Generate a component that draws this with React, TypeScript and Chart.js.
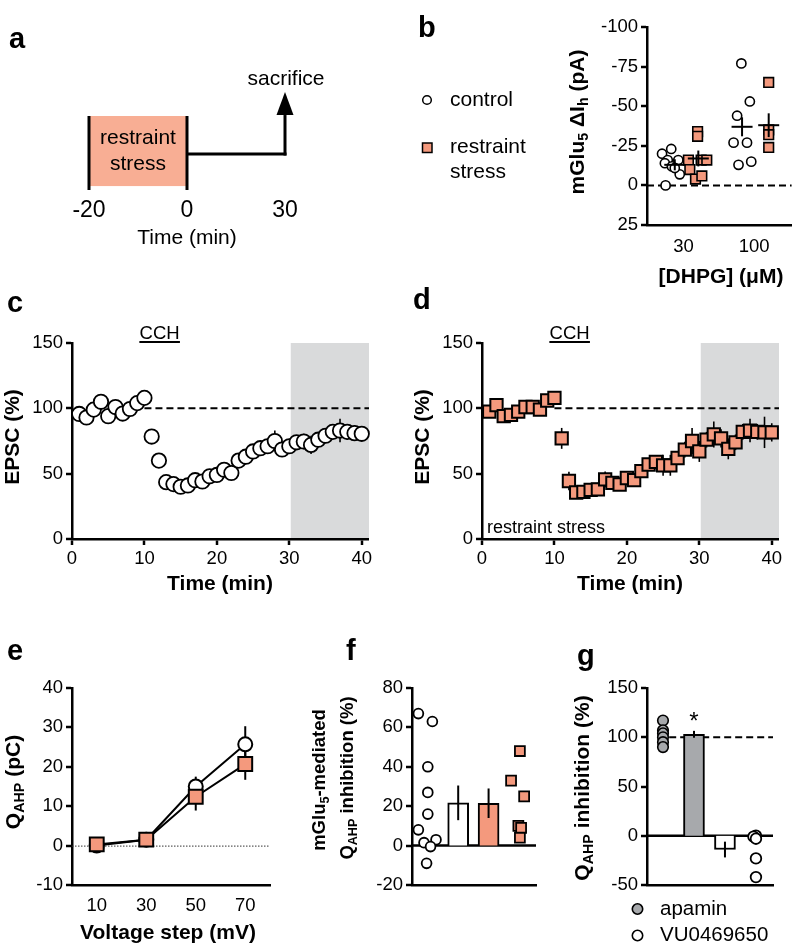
import React, { useEffect, useRef } from 'react';
import { Chart, registerables } from 'chart.js';

Chart.register(...registerables);

/* ====================== DATA ====================== */
// a: timeline
const timelineTicks = ['-20', '0', '30'];

// b: mGlu5 ΔIh
const dhpgDoses = ['30', '100'];
const bControl30 = [-20, -23, -16, -14, -12, -16, -7, 0, -11];
const bStress30 = [-16, -10, -34, -31, -4, -16, -6, -16];
const bControl100 = [-77, -53, -44, -27, -27, -13, -15];
const bStress100 = [-65, -35, -32, -24];
const bControlMean = [-13, -37];
const bControlSem = [3.5, 6];
const bStressMean = [-17, -38];
const bStressSem = [5, 7.5];
const bTicksY = [-100, -75, -50, -25, 0, 25];

// c, d: EPSC time course
const minutes = [1, 2, 3, 4, 5, 6, 7, 8, 9, 10, 11, 12, 13, 14, 15, 16, 17, 18, 19, 20,
  21, 22, 23, 24, 25, 26, 27, 28, 29, 30, 31, 32, 33, 34, 35, 36, 37, 38, 39, 40];
const cEpsc = [95.7, 93, 99, 105, 94, 101, 96, 99.5, 104, 108, 78.4, 60, 43.5, 42, 40, 41, 45, 44, 48, 49,
  53, 50.5, 60, 63, 67, 69.5, 71, 75, 68.5, 71, 74, 74.6, 72, 76, 79, 82, 83, 82, 81, 80.5];
const cSem = [3, 3, 3, 4, 3, 4, 3, 3, 3, 3, 3, 3, 3, 3, 3, 3, 3, 3, 3, 3,
  4, 4, 4, 4, 4, 5, 5, 8, 5, 5, 5, 6, 7, 5, 5, 5, 9, 6, 6, 5];
const dEpsc = [97.5, 102.5, 94, 95, 97.5, 101, 101, 99, 106, 108, 77, 44.4, 35.6, 36, 37.6, 38, 45.7, 43, 41.7, 46.7,
  45, 52, 57, 59, 56.4, 56.4, 62, 68.4, 75, 67, 76, 80, 77, 69, 74, 82, 83, 82, 81.6, 81.6];
const dSem = [3, 3, 4, 3, 3, 3, 3, 3, 4, 3, 8, 7, 4, 4, 4, 5, 6, 4, 4, 5,
  4, 4, 5, 5, 8, 8, 5, 6, 10, 8, 6, 10, 7, 8, 6, 6, 9, 6, 12, 7];
const epscTicksY = [0, 50, 100, 150];
const timeTicks = [0, 10, 20, 30, 40];

// e: QAHP vs voltage step
const voltageSteps = [10, 30, 50, 70];
const eControl = [0, 1.5, 15, 25.7];
const eControlSem = [0.5, 0.6, 2.5, 4.6];
const eStress = [0.3, 1.5, 12.4, 20.7];
const eStressSem = [0.5, 0.6, 3.5, 4];
const eTicksY = [-10, 0, 10, 20, 30, 40];

// f: mGlu5-mediated QAHP inhibition
const fControl = [67, 63, 40, 27, 16, 8, 1.5, 3, -0.5, -9];
const fStress = [48, 33, 25, 10, 9, 4];
const fBarMean = [21.7, 21.5];
const fBarSem = [8.8, 7.5];
const fTicksY = [-20, 0, 20, 40, 60, 80];

// g: QAHP inhibition by apamin / VU0469650
const gApamin = [117, 107, 104, 100, 95, 90];
const gVU = [0, -1, -3, -23, -42];
const gBarMean = [103, -14];
const gBarSem = [3.5, 8];
const gTicksY = [-50, 0, 50, 100, 150];

/* ====================== LAYOUT / STYLE ====================== */
const W = 800, H = 947, YW = 50, XH = 40;
const FAMILY = "'Liberation Sans', Arial, Helvetica, sans-serif";
const SALMON = '#F4997D';
const SALMON_LIGHT = '#F8AE94';
const GRAY_SHADE = '#D9DADB';
const GRAY_BAR = '#A7A9AC';
const TICK_SIZE = 18.5;
const TITLE_SIZE = 21;

const AREA: any = {
  a: { l: 89, r: 285, t: 92, b: 190 },
  b: { l: 647, r: 797, t: 27, b: 225 },
  c: { l: 72, r: 369, t: 343, b: 539 },
  d: { l: 482, r: 779, t: 343, b: 539 },
  e: { l: 72, r: 270, t: 688, b: 885 },
  f: { l: 412, r: 536, t: 688, b: 885 },
  g: { l: 647, r: 773, t: 688, b: 885 },
};

const B_X = { min: 0.484, max: 2.53, ticks: [1, 2], control: [0.877, 1.829], stress: [1.21, 2.206] };
const B_JIT = {
  c30: [-0.18, -0.05, -0.1, -0.14, -0.04, 0.05, 0.07, -0.13, 0],
  s30: [-0.14, -0.12, -0.01, -0.01, -0.04, 0.04, 0.05, 0.12],
  c100: [-0.01, 0.11, -0.07, -0.12, 0.07, -0.05, 0.13],
  s100: [0, 0, 0, 0],
};
const TC = { shadeFrom: 30.2, baseline: 100, dashFrom: 10, cch: [9.3, 14.9] };
const F_X = { min: -0.52, max: 3.56, control: 0, bars: [1, 2], stress: 3 };
const F_JIT_C = [-0.31, 0.15, 0, 0, 0, -0.31, -0.125, 0.27, 0.09, -0.04];
const F_JIT_S = [0.03, -0.26, 0.17, -0.02, 0.07, 0.03];
const G_X = { min: -0.516, max: 3.55, apamin: 0, bars: [1, 2], vu: 3, dashFrom: 0.2 };
const G_JIT_A = [0, 0, 0, 0, 0, 0];
const G_JIT_V = [0, -0.08, 0, 0, 0];

/* ====================== HELPERS ====================== */
type Seg = { t: string; sub?: boolean };

function drawText(ctx: CanvasRenderingContext2D, segs: Seg[] | string, cx: number, cy: number, size: number,
  opts: { bold?: boolean; rotate?: boolean; align?: 'center' | 'left' } = {}) {
  const list: Seg[] = typeof segs === 'string' ? [{ t: segs }] : segs;
  const weight = opts.bold ? 'bold ' : '';
  const mainFont = `${weight}${size}px ${FAMILY}`;
  const subFont = `${weight}${(size * 0.68).toFixed(2)}px ${FAMILY}`;
  ctx.save();
  ctx.translate(cx, cy);
  if (opts.rotate) ctx.rotate(-Math.PI / 2);
  ctx.textBaseline = 'middle';
  ctx.textAlign = 'left';
  ctx.fillStyle = '#000';
  const widths = list.map((s) => { ctx.font = s.sub ? subFont : mainFont; return ctx.measureText(s.t).width; });
  const total = widths.reduce((a, b) => a + b, 0);
  let x = opts.align === 'left' ? 0 : -total / 2;
  list.forEach((s, i) => {
    ctx.font = s.sub ? subFont : mainFont;
    ctx.fillText(s.t, x, s.sub ? size * 0.28 : 0);
    x += widths[i];
  });
  ctx.restore();
}

function drawLetter(ctx: CanvasRenderingContext2D, ch: string, x: number, baseline: number) {
  ctx.save();
  ctx.font = `bold 29px ${FAMILY}`;
  ctx.fillStyle = '#000';
  ctx.textAlign = 'left';
  ctx.textBaseline = 'alphabetic';
  ctx.fillText(ch, x, baseline);
  ctx.restore();
}

function line(ctx: CanvasRenderingContext2D, x1: number, y1: number, x2: number, y2: number, w: number, dash: number[] = []) {
  ctx.save();
  ctx.strokeStyle = '#000';
  ctx.lineWidth = w;
  ctx.setLineDash(dash);
  ctx.beginPath();
  ctx.moveTo(x1, y1);
  ctx.lineTo(x2, y2);
  ctx.stroke();
  ctx.restore();
}

const BORDER = { display: true, color: '#000', width: 2.5 };
const TICK_GRID = { display: true, drawOnChartArea: false, drawTicks: true, tickLength: 6, tickWidth: 2.5, tickColor: '#000', lineWidth: 0, color: 'rgba(0,0,0,0)' };
const NO_GRID = { display: false, drawTicks: false, drawOnChartArea: false };
const fixedTicks = (vals: number[]) => (s: any) => { s.ticks = vals.map((v) => ({ value: v })); };
const fitW = (s: any) => { s.width = YW; };
const fitH = (s: any) => { s.height = XH; };

function yLin(min: number, max: number, ticks: number[], reverse = false): any {
  return {
    type: 'linear', position: 'left', min, max, reverse,
    afterFit: fitW, afterBuildTicks: fixedTicks(ticks),
    border: BORDER, grid: TICK_GRID,
    ticks: { color: '#000', font: { family: FAMILY, size: TICK_SIZE }, padding: 3, autoSkip: false },
  };
}

function xLin(min: number, max: number, ticks: number[], o: { marks: boolean; padding: number; labels?: (v: number) => string; hide?: boolean }): any {
  const t: any = { display: !o.hide, color: '#000', font: { family: FAMILY, size: TICK_SIZE }, padding: o.padding, autoSkip: false, maxRotation: 0, minRotation: 0 };
  if (o.labels) t.callback = (v: any) => o.labels!(Number(v));
  return {
    type: 'linear', position: 'bottom', min, max,
    afterFit: fitH, afterBuildTicks: fixedTicks(ticks),
    border: BORDER, grid: o.marks ? TICK_GRID : NO_GRID, ticks: t,
  };
}

function baseOptions(area: any, scales: any, hasY = true): any {
  return {
    responsive: false, maintainAspectRatio: false, animation: false, devicePixelRatio: 1, events: [],
    layout: { padding: { left: area.l - (hasY ? YW : 0), right: W - area.r, top: area.t, bottom: H - area.b - XH } },
    plugins: { legend: { display: false }, tooltip: { enabled: false } },
    scales,
  };
}

function vErr(chart: any, xs: number[], means: number[], sems: number[], w: number) {
  const { ctx, scales: { x, y } } = chart;
  xs.forEach((xv, i) => {
    const px = x.getPixelForValue(xv);
    line(ctx, px, y.getPixelForValue(means[i] - sems[i]), px, y.getPixelForValue(means[i] + sems[i]), w);
  });
}

/* ====================== PANELS ====================== */
function panelA(): any {
  const plugin = {
    id: 'panelA',
    afterDraw(chart: any) {
      const { ctx, scales: { x, y } } = chart;
      const x0 = x.getPixelForValue(0), x1 = x.getPixelForValue(1), x2 = x.getPixelForValue(2);
      const boxTop = y.getPixelForValue(0.755), boxBot = y.getPixelForValue(0.04);
      ctx.save();
      ctx.fillStyle = SALMON_LIGHT;
      ctx.fillRect(x0, boxTop, x1 - x0, boxBot - boxTop);
      ctx.restore();
      line(ctx, x0, boxTop, x0, y.getPixelForValue(0), 3);
      line(ctx, x1, boxTop, x1, y.getPixelForValue(0), 3);
      const hy = y.getPixelForValue(0.367);
      line(ctx, x1, hy, x2 + 1.5, hy, 3);
      const arrowBase = y.getPixelForValue(0.765);
      line(ctx, x2, hy + 1.5, x2, arrowBase, 3);
      ctx.save();
      ctx.fillStyle = '#000';
      ctx.beginPath();
      ctx.moveTo(x2, y.getPixelForValue(1));
      ctx.lineTo(x2 - 8.5, arrowBase);
      ctx.lineTo(x2 + 8.5, arrowBase);
      ctx.closePath();
      ctx.fill();
      ctx.restore();
      drawText(ctx, 'restraint', (x0 + x1) / 2, 138, 21);
      drawText(ctx, 'stress', (x0 + x1) / 2, 164, 21);
      drawText(ctx, 'sacrifice', x2 + 1, 79, 21);
      drawText(ctx, 'Time (min)', (x0 + x2) / 2, 238, 21);
      drawLetter(ctx, 'a', 9, 48);
    },
  };
  return {
    type: 'scatter',
    data: { labels: timelineTicks, datasets: [] },
    options: baseOptions(AREA.a, {
      x: {
        type: 'category', position: 'bottom', offset: false, afterFit: fitH,
        border: { display: false }, grid: NO_GRID,
        ticks: { color: '#000', font: { family: FAMILY, size: 23 }, padding: 7, autoSkip: false, maxRotation: 0 },
      },
      y: { type: 'linear', min: 0, max: 1, display: false },
    }, false),
    plugins: [plugin],
  };
}

function panelB(): any {
  const ctrl = [
    ...bControl30.map((v, i) => ({ x: B_X.control[0] + B_JIT.c30[i], y: v })),
    ...bControl100.map((v, i) => ({ x: B_X.control[1] + B_JIT.c100[i], y: v })),
  ];
  const str = [
    ...bStress30.map((v, i) => ({ x: B_X.stress[0] + B_JIT.s30[i], y: v })),
    ...bStress100.map((v, i) => ({ x: B_X.stress[1] + B_JIT.s100[i], y: v })),
  ];
  const plugin = {
    id: 'panelB',
    beforeDatasetsDraw(chart: any) {
      const { ctx, chartArea: ca, scales: { y } } = chart;
      const zy = y.getPixelForValue(0);
      line(ctx, ca.left, zy, ca.right, zy, 2, [7, 4]);
    },
    afterDatasetsDraw(chart: any) {
      const { ctx, scales: { x, y } } = chart;
      const groups = [
        { xs: B_X.control, m: bControlMean, s: bControlSem },
        { xs: B_X.stress, m: bStressMean, s: bStressSem },
      ];
      groups.forEach((g) => {
        g.xs.forEach((xv, i) => {
          const px = x.getPixelForValue(xv);
          const py = y.getPixelForValue(g.m[i]);
          line(ctx, px - 10.5, py, px + 10.5, py, 2);
          line(ctx, px, y.getPixelForValue(g.m[i] - g.s[i]), px, y.getPixelForValue(g.m[i] + g.s[i]), 2);
        });
      });
    },
    afterDraw(chart: any) {
      const { ctx } = chart;
      // legend
      ctx.save();
      ctx.lineWidth = 1.5;
      ctx.strokeStyle = '#000';
      ctx.fillStyle = '#fff';
      ctx.beginPath(); ctx.arc(427, 100, 4.3, 0, Math.PI * 2); ctx.fill(); ctx.stroke();
      ctx.fillStyle = SALMON;
      ctx.fillRect(422.5, 143, 9.5, 9.5); ctx.strokeRect(422.5, 143, 9.5, 9.5);
      ctx.restore();
      drawText(ctx, 'control', 450, 100, 21, { align: 'left' });
      drawText(ctx, 'restraint', 450, 147, 21, { align: 'left' });
      drawText(ctx, 'stress', 450, 172, 21, { align: 'left' });
      drawText(ctx, [{ t: 'mGlu' }, { t: '5', sub: true }, { t: ' ΔI' }, { t: 'h', sub: true }, { t: ' (pA)' }], 578.5, 122, TITLE_SIZE, { bold: true, rotate: true });
      drawText(ctx, '[DHPG] (μM)', 721, 277, TITLE_SIZE, { bold: true });
      drawLetter(ctx, 'b', 418, 37);
    },
  };
  return {
    type: 'scatter',
    data: {
      datasets: [
        { data: ctrl, pointStyle: 'circle', pointRadius: 4.6, pointBackgroundColor: '#fff', pointBorderColor: '#000', pointBorderWidth: 1.6, clip: false },
        { data: str, pointStyle: 'rect', pointRadius: 6.8, pointBackgroundColor: SALMON, pointBorderColor: '#000', pointBorderWidth: 1.6, clip: false },
      ],
    },
    options: baseOptions(AREA.b, {
      x: xLin(B_X.min, B_X.max, B_X.ticks, { marks: false, padding: 10.6, labels: (v) => dhpgDoses[Math.round(v) - 1] }),
      y: yLin(-100, 25, bTicksY, true),
    }),
    plugins: [plugin],
  };
}

function panelTimecourse(which: 'c' | 'd'): any {
  const vals = which === 'c' ? cEpsc : dEpsc;
  const sems = which === 'c' ? cSem : dSem;
  const yTitleX = which === 'c' ? 13 : 423;
  const xTitleX = which === 'c' ? 220 : 630;
  const plugin = {
    id: 'panel' + which,
    beforeDraw(chart: any) {
      const { ctx, chartArea: ca, scales: { x } } = chart;
      const sx = x.getPixelForValue(TC.shadeFrom);
      ctx.save();
      ctx.fillStyle = GRAY_SHADE;
      ctx.fillRect(sx, ca.top, ca.right - sx, ca.bottom - ca.top);
      ctx.restore();
    },
    beforeDatasetsDraw(chart: any) {
      const { ctx, chartArea: ca, scales: { x, y } } = chart;
      const by = y.getPixelForValue(TC.baseline);
      line(ctx, x.getPixelForValue(TC.dashFrom), by, ca.right, by, 2, [7, 4]);
      vErr(chart, minutes, vals, sems, 1.6);
    },
    afterDraw(chart: any) {
      const { ctx, scales: { x } } = chart;
      const c1 = x.getPixelForValue(TC.cch[0]), c2 = x.getPixelForValue(TC.cch[1]);
      drawText(ctx, 'CCH', (c1 + c2) / 2, 334, 18.5);
      line(ctx, c1, 342, c2, 342, 2);
      drawText(ctx, 'EPSC (%)', yTitleX, 437, TITLE_SIZE, { bold: true, rotate: true });
      drawText(ctx, 'Time (min)', xTitleX, 584, TITLE_SIZE, { bold: true });
      if (which === 'd') drawText(ctx, 'restraint stress', 487, 528, 18, { align: 'left' });
      if (which === 'c') drawLetter(ctx, 'c', 7, 312);
      else drawLetter(ctx, 'd', 413, 309);
    },
  };
  const ds = which === 'c'
    ? { pointStyle: 'circle', pointRadius: 7.2, pointBackgroundColor: '#fff', pointBorderColor: '#000', pointBorderWidth: 1.8 }
    : { pointStyle: 'rect', pointRadius: 8.7, pointBackgroundColor: SALMON, pointBorderColor: '#000', pointBorderWidth: 2 };
  return {
    type: 'scatter',
    data: { datasets: [{ data: minutes.map((m, i) => ({ x: m, y: vals[i] })), ...ds, clip: false }] },
    options: baseOptions(AREA[which], {
      x: xLin(0, 41, timeTicks, { marks: true, padding: 2.6 }),
      y: yLin(0, 150, epscTicksY),
    }),
    plugins: [plugin],
  };
}

function panelE(): any {
  const plugin = {
    id: 'panelE',
    beforeDatasetsDraw(chart: any) {
      const { ctx, chartArea: ca, scales: { y } } = chart;
      const zy = y.getPixelForValue(0);
      ctx.save();
      ctx.strokeStyle = '#333';
      ctx.lineWidth = 1;
      ctx.setLineDash([1.5, 1.5]);
      ctx.beginPath(); ctx.moveTo(ca.left, zy + 0.5); ctx.lineTo(ca.right, zy + 0.5); ctx.stroke();
      ctx.restore();
      vErr(chart, voltageSteps, eControl, eControlSem, 2);
      vErr(chart, voltageSteps, eStress, eStressSem, 2);
    },
    afterDraw(chart: any) {
      const { ctx } = chart;
      drawText(ctx, [{ t: 'Q' }, { t: 'AHP', sub: true }, { t: ' (pC)' }], 14, 782, TITLE_SIZE, { bold: true, rotate: true });
      drawText(ctx, 'Voltage step (mV)', 168, 933, TITLE_SIZE, { bold: true });
      drawLetter(ctx, 'e', 7, 660);
    },
  };
  return {
    type: 'scatter',
    data: {
      datasets: [
        {
          data: voltageSteps.map((v, i) => ({ x: v, y: eStress[i] })), showLine: true, borderColor: '#000', borderWidth: 2,
          pointStyle: 'rect', pointRadius: 9.8, pointBackgroundColor: SALMON, pointBorderColor: '#000', pointBorderWidth: 2, clip: false,
        },
        {
          data: voltageSteps.map((v, i) => ({ x: v, y: eControl[i] })), showLine: true, borderColor: '#000', borderWidth: 2,
          pointStyle: 'circle', pointRadius: 7, pointBackgroundColor: '#fff', pointBorderColor: '#000', pointBorderWidth: 2, clip: false,
        },
      ],
    },
    options: baseOptions(AREA.e, {
      x: xLin(0, 80, voltageSteps, { marks: false, padding: 9.4 }),
      y: yLin(-10, 40, eTicksY),
    }),
    plugins: [plugin],
  };
}

function panelF(): any {
  const plugin = {
    id: 'panelF',
    beforeDatasetsDraw(chart: any) {
      const { ctx, chartArea: ca, scales: { y } } = chart;
      const zy = y.getPixelForValue(0);
      line(ctx, ca.left, zy, ca.right, zy, 2.5);
    },
    afterDatasetsDraw(chart: any) {
      vErr(chart, F_X.bars, fBarMean, fBarSem, 2);
    },
    afterDraw(chart: any) {
      const { ctx } = chart;
      drawText(ctx, [{ t: 'mGlu' }, { t: '5', sub: true }, { t: '-mediated' }], 320, 780, 18.5, { bold: true, rotate: true });
      drawText(ctx, [{ t: 'Q' }, { t: 'AHP', sub: true }, { t: ' inhibition (%)' }], 348, 778, 18.5, { bold: true, rotate: true });
      drawLetter(ctx, 'f', 346, 660);
    },
  };
  return {
    type: 'scatter',
    data: {
      datasets: [
        {
          type: 'bar', data: F_X.bars.map((xv, i) => ({ x: xv, y: fBarMean[i] })),
          backgroundColor: ['#fff', SALMON], borderColor: '#000', borderWidth: 2, barThickness: 21, borderSkipped: 'start', grouped: false,
        },
        {
          data: fControl.map((v, i) => ({ x: F_X.control + F_JIT_C[i], y: v })),
          pointStyle: 'circle', pointRadius: 4.9, pointBackgroundColor: '#fff', pointBorderColor: '#000', pointBorderWidth: 1.8, clip: false,
        },
        {
          data: fStress.map((v, i) => ({ x: F_X.stress + F_JIT_S[i], y: v })),
          pointStyle: 'rect', pointRadius: 7, pointBackgroundColor: SALMON, pointBorderColor: '#000', pointBorderWidth: 1.8, clip: false,
        },
      ],
    },
    options: baseOptions(AREA.f, {
      x: xLin(F_X.min, F_X.max, [], { marks: false, padding: 0, hide: true }),
      y: yLin(-20, 80, fTicksY),
    }),
    plugins: [plugin],
  };
}

function panelG(): any {
  const plugin = {
    id: 'panelG',
    beforeDatasetsDraw(chart: any) {
      const { ctx, chartArea: ca, scales: { x, y } } = chart;
      const zy = y.getPixelForValue(0);
      line(ctx, ca.left, zy, ca.right, zy, 2.5);
      const hy = y.getPixelForValue(100);
      line(ctx, x.getPixelForValue(G_X.dashFrom), hy, ca.right, hy, 2, [7, 4]);
    },
    afterDatasetsDraw(chart: any) {
      const { ctx, scales: { x, y } } = chart;
      vErr(chart, G_X.bars, gBarMean, gBarSem, 2);
      drawText(ctx, '*', x.getPixelForValue(G_X.bars[0]), y.getPixelForValue(gBarMean[0] + gBarSem[0]) - 8, 24);
    },
    afterDraw(chart: any) {
      const { ctx } = chart;
      ctx.save();
      ctx.lineWidth = 1.6;
      ctx.strokeStyle = '#000';
      ctx.fillStyle = GRAY_BAR;
      ctx.beginPath(); ctx.arc(637.5, 909, 5.2, 0, Math.PI * 2); ctx.fill(); ctx.stroke();
      ctx.fillStyle = '#fff';
      ctx.beginPath(); ctx.arc(637.5, 935.5, 5.2, 0, Math.PI * 2); ctx.fill(); ctx.stroke();
      ctx.restore();
      drawText(ctx, 'apamin', 660, 909, 20.5, { align: 'left' });
      drawText(ctx, 'VU0469650', 660, 935.5, 20.5, { align: 'left' });
      drawText(ctx, [{ t: 'Q' }, { t: 'AHP', sub: true }, { t: ' inhibition (%)' }], 583, 788, TITLE_SIZE, { bold: true, rotate: true });
      drawLetter(ctx, 'g', 577, 665);
    },
  };
  return {
    type: 'scatter',
    data: {
      datasets: [
        {
          type: 'bar', data: G_X.bars.map((xv, i) => ({ x: xv, y: gBarMean[i] })),
          backgroundColor: [GRAY_BAR, '#fff'], borderColor: '#000', borderWidth: 2, barThickness: 21, borderSkipped: 'start', grouped: false,
        },
        {
          data: gApamin.map((v, i) => ({ x: G_X.apamin + G_JIT_A[i], y: v })),
          pointStyle: 'circle', pointRadius: 5.3, pointBackgroundColor: GRAY_BAR, pointBorderColor: '#000', pointBorderWidth: 1.6, clip: false,
        },
        {
          data: gVU.map((v, i) => ({ x: G_X.vu + G_JIT_V[i], y: v })),
          pointStyle: 'circle', pointRadius: 5.3, pointBackgroundColor: '#fff', pointBorderColor: '#000', pointBorderWidth: 1.8, clip: false,
        },
      ],
    },
    options: baseOptions(AREA.g, {
      x: xLin(G_X.min, G_X.max, [], { marks: false, padding: 0, hide: true }),
      y: yLin(-50, 150, gTicksY),
    }),
    plugins: [plugin],
  };
}

const PANELS = [panelA, panelB, () => panelTimecourse('c'), () => panelTimecourse('d'), panelE, panelF, panelG];

Chart.defaults.font.family = FAMILY;
Chart.defaults.color = '#000';

export default function App() {
  const canvases = useRef<(HTMLCanvasElement | null)[]>([]);
  useEffect(() => {
    const charts = PANELS.map((make, i) => new Chart(canvases.current[i] as HTMLCanvasElement, make()));
    return () => charts.forEach((c) => c.destroy());
  }, []);
  return (
    <div style={{ position: 'absolute', left: 0, top: 0, width: W, height: H, background: '#fff', overflow: 'hidden' }}>
      {PANELS.map((_, i) => (
        <canvas
          key={i}
          ref={(el) => { canvases.current[i] = el; }}
          width={W}
          height={H}
          style={{ position: 'absolute', left: 0, top: 0, width: W, height: H }}
        />
      ))}
    </div>
  );
}
